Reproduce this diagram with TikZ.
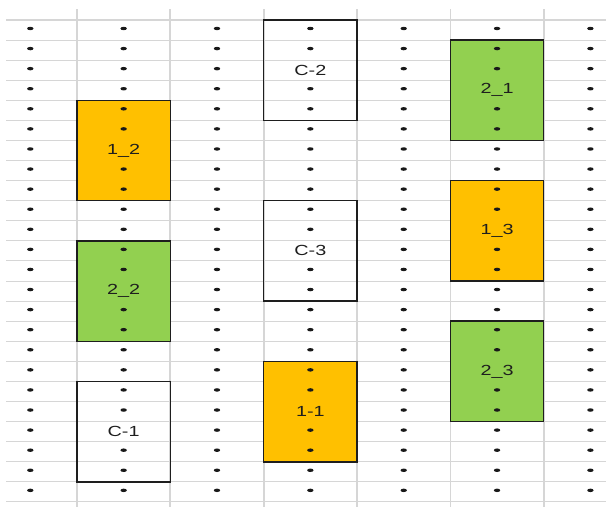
\documentclass[tikz,border=0pt]{standalone}
\usepackage{fontspec}
\usepackage{graphicx}
\newfontfamily\cellfont{Liberation Sans}
\definecolor{ink}{RGB}{30,30,30}
\definecolor{gridline}{RGB}{214,214,214}
\definecolor{amber}{RGB}{255,192,0}
\definecolor{leaf}{RGB}{146,208,80}
\newcommand{\cellwide}[1]{\scalebox{1.35}[1]{#1}}
\tikzset{
    gridh/.style={
        draw=gridline,
        line width=0.8pt
    },
    gridv/.style={
        draw=gridline,
        line width=1.3pt
    },
    cellbox/.style={
        rectangle,
        draw=ink,
        line width=1.1pt,
        minimum width=70pt,
        minimum height=75.3pt,
        inner sep=0pt,
        font=\cellfont\fontsize{11}{13}\selectfont,
        text=ink
    },
    plainbox/.style={cellbox},
    amberbox/.style={cellbox, fill=amber},
    leafbox/.style={cellbox, fill=leaf},
    celldot/.style={fill=black!90}
}
\begin{document}
\begin{tikzpicture}[x=0.75pt, y=-0.75pt]

\useasboundingbox (0,0) rectangle (606,507);

% === Sheet grid ===
\foreach \k in {0,...,24}
    \draw[gridh] (6, {20+20.08*\k}) -- (606, {20+20.08*\k});
\foreach \m in {0,...,5}
    \draw[gridv] ({77+93.35*\m}, 9) -- ({77+93.35*\m}, 507);

% === Blocks ===
% column B
\node[amberbox] (o12) at (123.65, 150.5) {\cellwide{1\_2}};
\node[leafbox] (g22) at (123.65, 291.1) {\cellwide{2\_2}};
\node[plainbox] (c1) at (123.65, 431.6) {\cellwide{C-1}};

% column D
\node[plainbox] (c2) at (310.35, 70.2) {\cellwide{C-2}};
\node[plainbox] (c3) at (310.35, 250.9) {\cellwide{C-3}};
\node[amberbox] (o11) at (310.35, 411.6) {\cellwide{1-1}};

% column F
\node[leafbox] (g21) at (497.05, 90.3) {\cellwide{2\_1}};
\node[amberbox] (o13) at (497.05, 230.8) {\cellwide{1\_3}};
\node[leafbox] (g23) at (497.05, 371.4) {\cellwide{2\_3}};

% === Dots (skip the cells that hold a label) ===
\foreach \c/\a/\b/\d in {0/-1/-1/-1, 1/6/13/20, 2/-1/-1/-1, 3/2/11/19,
                         4/-1/-1/-1, 5/3/10/17, 6/-1/-1/-1} {
    \foreach \r in {0,...,23} {
        \ifnum\r=\a\relax\else\ifnum\r=\b\relax\else\ifnum\r=\d\relax\else
            \fill[celldot] ({30.3+93.35*\c}, {28.5+20.08*\r})
                ellipse [x radius=2.4pt, y radius=1.3pt];
        \fi\fi\fi
    }
}

\end{tikzpicture}
\end{document}
